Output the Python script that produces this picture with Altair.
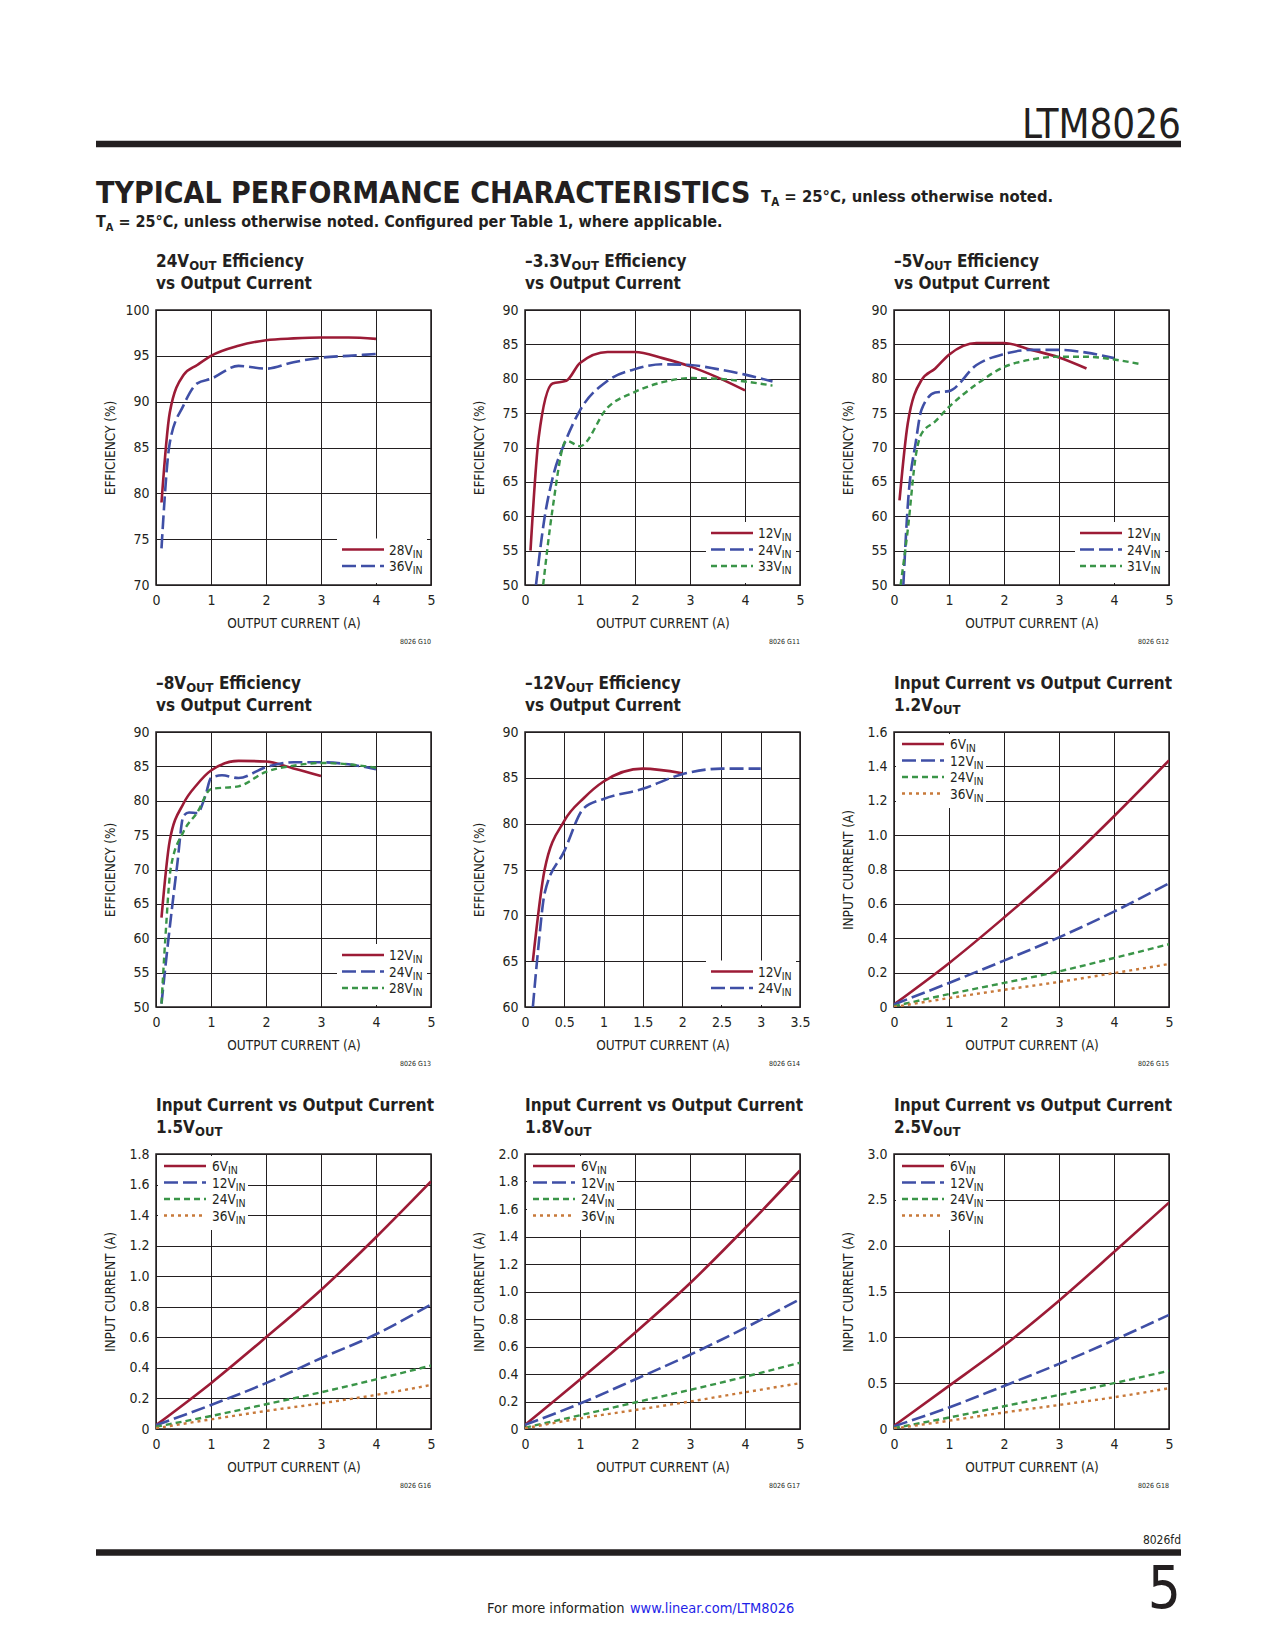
import altair as alt
import pandas as pd

# ---------------- data ----------------
P1_X = [0.1, 0.25, 0.5, 0.75, 1, 1.5, 2, 2.5, 3, 3.5, 4]
P1_28V = [79, 88.8, 92.9, 94.0, 95.0, 96.1, 96.7, 96.9, 97.0, 97.0, 96.85]
P1_36V = [74, 85.5, 89.6, 92.0, 92.5, 93.9, 93.6, 94.3, 94.8, 95.0, 95.2]

P2_12V_X = [0.1, 0.25, 0.5, 0.75, 1, 1.5, 2, 2.5, 3, 3.5, 4]
P2_12V = [55, 71.5, 79.3, 79.7, 82.3, 83.9, 83.9, 83.0, 81.8, 80.2, 78.3]
P2_24V_X = [0.2, 0.35, 0.5, 0.75, 1, 1.5, 2, 2.5, 3, 3.5, 4, 4.5]
P2_24V = [50, 59.5, 65.5, 71.2, 75.4, 79.7, 81.4, 82.1, 82.0, 81.4, 80.6, 79.6]
P2_33V_X = [0.33, 0.5, 0.75, 1, 1.5, 2, 2.5, 3, 3.5, 4, 4.5]
P2_33V = [50, 61, 71, 70.2, 75.8, 78.1, 79.5, 80.1, 80.0, 79.6, 79.0]

P3_12V_X = [0.1, 0.25, 0.5, 0.75, 1, 1.5, 2, 2.5, 3, 3.5]
P3_12V = [62.3, 73.5, 79.8, 81.5, 83.5, 85.2, 85.2, 84.2, 83.1, 81.5]
P3_24V_X = [0.17, 0.25, 0.4, 0.5, 0.75, 1, 1.5, 2, 2.5, 3, 3.5, 4]
P3_24V = [50, 61.5, 71, 75.5, 78, 78.2, 82, 83.6, 84.2, 84.2, 83.8, 83.0]
P3_31V_X = [0.12, 0.25, 0.4, 0.5, 0.75, 1, 1.5, 2, 2.5, 3, 3.5, 4, 4.5]
P3_31V = [50, 58, 69, 72, 73.8, 75.9, 79.2, 81.7, 82.8, 83.2, 83.2, 82.8, 82.1]

P4_12V_X = [0.1, 0.25, 0.5, 0.75, 1, 1.5, 2, 2.5, 3]
P4_12V = [63, 74.2, 79.6, 82.4, 84.4, 85.8, 85.7, 84.7, 83.6]
P4_24V_X = [0.1, 0.2, 0.38, 0.5, 0.6, 0.75, 0.9, 1, 1.2, 1.5, 2, 2.5, 3, 3.5, 4]
P4_24V = [50.5, 58, 70.3, 77.8, 78.3, 78.2, 80.8, 83.3, 83.7, 83.3, 84.9, 85.6, 85.6, 85.3, 84.6]
P4_28V_X = [0.1, 0.17, 0.27, 0.5, 0.75, 1, 1.5, 2, 2.5, 3, 3.5, 4]
P4_28V = [50.5, 60, 70.3, 75.5, 78.3, 81.7, 82.1, 84.2, 85.1, 85.5, 85.3, 84.8]

P5_12V_X = [0.1, 0.25, 0.5, 0.75, 1, 1.5, 2]
P5_12V = [65, 75, 80.3, 82.8, 84.6, 86.0, 85.5]
P5_24V_X = [0.1, 0.17, 0.25, 0.5, 0.75, 1, 1.5, 2, 2.5, 3]
P5_24V = [60, 66.5, 72.4, 77, 81.7, 82.7, 83.8, 85.4, 86, 86]

IC_X = [0, 1, 2, 3, 4, 5]
P6_6V = [0.015, 0.255, 0.52, 0.80, 1.11, 1.435]
P6_12V = [0.015, 0.14, 0.27, 0.405, 0.555, 0.72]
P6_24V = [0.005, 0.075, 0.14, 0.207, 0.285, 0.365]
P6_36V = [0.0, 0.052, 0.10, 0.146, 0.197, 0.25]

P7_6V = [0.025, 0.30, 0.60, 0.91, 1.255, 1.62]
P7_12V = [0.025, 0.157, 0.30, 0.463, 0.62, 0.815]
P7_24V = [0.015, 0.085, 0.162, 0.24, 0.325, 0.415]
P7_36V = [0.005, 0.063, 0.118, 0.168, 0.223, 0.288]

P8_6V = [0.03, 0.36, 0.70, 1.06, 1.46, 1.88]
P8_12V = [0.03, 0.185, 0.36, 0.54, 0.735, 0.945]
P8_24V = [0.01, 0.10, 0.193, 0.284, 0.38, 0.482]
P8_36V = [0.005, 0.077, 0.138, 0.20, 0.267, 0.333]

P9_6V = [0.035, 0.47, 0.91, 1.40, 1.93, 2.47]
P9_12V = [0.03, 0.235, 0.47, 0.71, 0.97, 1.245]
P9_24V = [0.01, 0.125, 0.248, 0.372, 0.50, 0.635]
P9_36V = [0.005, 0.09, 0.18, 0.262, 0.346, 0.445]

# ---------------- styles ----------------
FONT = "DejaVu Sans Condensed, sans-serif"
INK = "#231F20"
RED = "#9C1B36"
BLUE = "#3F4FA6"
GREEN = "#3A9548"
ORANGE = "#C8793A"
STY = {
    "red": dict(color=RED, strokeWidth=2.6),
    "blue": dict(color=BLUE, strokeWidth=2.6, strokeDash=[14, 5]),
    "green": dict(color=GREEN, strokeWidth=2.4, strokeDash=[6, 4]),
    "orange": dict(color=ORANGE, strokeWidth=2.4, strokeDash=[3, 4]),
}

# DejaVu Sans advance widths (per 1000 em); condensed face is ~0.9 of these
REG = {' ': 318, '.': 318, ',': 318, '-': 361, '\u2013': 500, '(': 390, ')': 390, '%': 950,
       '\u00b0': 500, '=': 838, '/': 337, ':': 337}
for c in "0123456789":
    REG[c] = 636
for c, w in zip("ABCDEFGHIJKLMNOPQRSTUVWXYZ",
                [684, 686, 698, 770, 632, 575, 775, 752, 295, 295, 656, 557, 863, 748, 787, 603, 787, 695, 635, 611, 732, 684, 989, 685, 611, 685]):
    REG[c] = w
for c, w in zip("abcdefghijklmnopqrstuvwxyz",
                [613, 635, 550, 635, 615, 352, 635, 634, 278, 278, 579, 278, 974, 634, 612, 635, 635, 411, 521, 392, 634, 592, 818, 592, 592, 525]):
    REG[c] = w
BOLD = {' ': 348, '.': 380, ',': 380, '-': 415, '\u2013': 500, '(': 457, ')': 457, '%': 1002,
        '\u00b0': 500, '=': 838, '/': 365, ':': 400}
for c in "0123456789":
    BOLD[c] = 696
for c, w in zip("ABCDEFGHIJKLMNOPQRSTUVWXYZ",
                [774, 762, 734, 830, 683, 683, 821, 837, 372, 372, 775, 637, 995, 837, 850, 733, 850, 770, 720, 682, 812, 774, 1103, 771, 724, 725]):
    BOLD[c] = w
for c, w in zip("abcdefghijklmnopqrstuvwxyz",
                [675, 716, 593, 716, 678, 435, 716, 712, 343, 343, 665, 343, 1042, 712, 687, 716, 716, 493, 595, 478, 712, 652, 924, 645, 652, 582]):
    BOLD[c] = w


def tw(s, size, bold=False):
    t = BOLD if bold else REG
    return sum(t.get(c, 620) for c in s) / 1000.0 * size * 0.9


def one():
    return alt.Data(values=[{"k": 0}])


def text_mark(x, y, s, size, bold=False, color=INK, align="left"):
    return alt.Chart(one()).mark_text(
        text=s, font=FONT, fontSize=size, fontWeight="bold" if bold else "normal",
        color=color, align=align, baseline="alphabetic"
    ).encode(x=alt.value(x), y=alt.value(y))


def rich(x, y, parts, color=INK):
    """Lay out text runs one after another; leading spaces become an x advance
    (SVG would otherwise collapse them)."""
    out = []
    for s, size, bold, dy in parts:
        stripped = s.lstrip(" ")
        x += tw(s[: len(s) - len(stripped)], size, bold)
        out.append(text_mark(x, y + dy, stripped, size, bold, color))
        x += tw(stripped, size, bold)
    return out


def rect(x1, y1, x2, y2, color="white"):
    return alt.Chart(one()).mark_rect(color=color).encode(
        x=alt.value(x1), x2=alt.value(x2), y=alt.value(y1), y2=alt.value(y2))


def hrule(x1, x2, y, **kw):
    return alt.Chart(one()).mark_rule(**kw).encode(x=alt.value(x1), x2=alt.value(x2), y=alt.value(y))


W, H = 275, 275
LEG_MAIN, LEG_SUB = 13.5, 10.5


def legend_layers(entries, where):
    layers = []
    n = len(entries)
    if where == "br":
        sx1, sx2, tx = 186, 228, 233
        y0 = 256 - (n - 1) * 16.5
        layers.append(rect(181, y0 - 11, 271, H - 2))
    else:
        sx1, sx2, tx = 8, 50, 56
        y0 = 12
        layers.append(rect(2, 2, 92, 76))
    for i, (lab, st) in enumerate(entries):
        yy = y0 + i * 16.5
        layers.append(hrule(sx1, sx2, yy, **STY[st]))
        layers += rich(tx, yy + 5, [(lab + "V", LEG_MAIN, False, 0), ("IN", LEG_SUB, False, 3)])
    return layers


def panel(series, xdom, xvals, ydom, yvals, ytitle, title_lines, entries, where, code, ic=False, extra=None):
    xax = alt.Axis(values=xvals, title="OUTPUT CURRENT (A)", format="~g")
    yk = dict(values=yvals, title=ytitle)
    if ic:
        yk["labelExpr"] = "datum.value == 0 ? '0' : format(datum.value, '.1f')"
    X = alt.X("x:Q", scale=alt.Scale(domain=xdom, nice=False, zero=False), axis=xax)
    Y = alt.Y("y:Q", scale=alt.Scale(domain=ydom, nice=False, zero=False), axis=alt.Axis(**yk))
    layers = []
    for xs, ys, st in series:
        df = pd.DataFrame({"x": xs, "y": ys})
        layers.append(alt.Chart(df).mark_line(clip=True, interpolate="monotone", **STY[st]).encode(x=X, y=Y))
    layers += legend_layers(entries, where)
    layers += rich(0, -43, title_lines[0])
    layers += rich(0, -21, title_lines[1])
    layers.append(text_mark(W, H + 59, code, 7, align="right"))
    if extra:
        layers += extra
    return alt.layer(*layers).properties(width=W, height=H)


TS, TSUB = 17, 13


def eff_title(pre):
    return [[(pre, TS, True, 0), ("OUT", TSUB, True, 3), (" Efficiency", TS, True, 0)],
            [("vs Output Current", TS, True, 0)]]


def ic_title(v):
    return [[("Input Current vs Output Current", TS, True, 0)],
            [(v, TS, True, 0), ("OUT", TSUB, True, 3)]]


# ---------------- page furniture (relative to first plot's origin) ----------------
OX, OY = 155, 309


def P(x, y):
    return x - OX, y - OY


page = []
ax, ay = P(8, 8)
page.append(rect(ax, ay, ax + 2, ay + 2))
x, y = P(1180, 137)
page.append(text_mark(x, y, "LTM8026", 40, align="right"))
x1, y = P(95, 143)
x2, _ = P(1180, 143)
page.append(hrule(x1, x2, y, color=INK, strokeWidth=6.5))
x, y = P(95, 202)
page.append(text_mark(x, y, "TYPICAL PERFORMANCE CHARACTERISTICS", 30, bold=True))
x, y = P(760, 201)
page += rich(x, y, [("T", 16.5, True, 0), ("A", 11.5, True, 3.5), (" = 25\u00b0C, unless otherwise noted.", 16.5, True, 0)])
x, y = P(95, 226)
page += rich(x, y, [("T", 16, True, 0), ("A", 11, True, 3.5),
                    (" = 25\u00b0C, unless otherwise noted. Configured per Table 1, where applicable.", 16, True, 0)])
x, y = P(1180, 1543)
page.append(text_mark(x, y, "8026fd", 12, align="right"))
x1, y = P(95, 1551.5)
page.append(hrule(x1, x2, y, color=INK, strokeWidth=6.5))
x, y = P(1180, 1607)
page.append(text_mark(x, y, "5", 58, align="right"))
x, y = P(486, 1612)
page += rich(x, y, [("For more information", 14.5, False, 0)])
page += rich(x + tw("For more information", 14.5), y, [(" www.linear.com/LTM8026", 14.5, False, 0)], color="#1F1FE8")

EFF = "EFFICIENCY (%)"
ICT = "INPUT CURRENT (A)"
X5 = [0, 1, 2, 3, 4, 5]

p1 = panel([(P1_X, P1_28V, "red"), (P1_X, P1_36V, "blue")], [0, 5], X5, [70, 100],
           [70, 75, 80, 85, 90, 95, 100], EFF, eff_title("24V"),
           [("28", "red"), ("36", "blue")], "br", "8026 G10", extra=page)
p2 = panel([(P2_12V_X, P2_12V, "red"), (P2_24V_X, P2_24V, "blue"), (P2_33V_X, P2_33V, "green")],
           [0, 5], X5, [50, 90], list(range(50, 91, 5)), EFF, eff_title("\u20133.3V"),
           [("12", "red"), ("24", "blue"), ("33", "green")], "br", "8026 G11")
p3 = panel([(P3_12V_X, P3_12V, "red"), (P3_24V_X, P3_24V, "blue"), (P3_31V_X, P3_31V, "green")],
           [0, 5], X5, [50, 90], list(range(50, 91, 5)), EFF, eff_title("\u20135V"),
           [("12", "red"), ("24", "blue"), ("31", "green")], "br", "8026 G12")
p4 = panel([(P4_12V_X, P4_12V, "red"), (P4_24V_X, P4_24V, "blue"), (P4_28V_X, P4_28V, "green")],
           [0, 5], X5, [50, 90], list(range(50, 91, 5)), EFF, eff_title("\u20138V"),
           [("12", "red"), ("24", "blue"), ("28", "green")], "br", "8026 G13")
p5 = panel([(P5_12V_X, P5_12V, "red"), (P5_24V_X, P5_24V, "blue")],
           [0, 3.5], [0, 0.5, 1, 1.5, 2, 2.5, 3, 3.5], [60, 90], list(range(60, 91, 5)), EFF,
           eff_title("\u201312V"), [("12", "red"), ("24", "blue")], "br", "8026 G14")

IC_ENTRIES = [("6", "red"), ("12", "blue"), ("24", "green"), ("36", "orange")]


def icp(a, b, c, d, ymax, step, v, code):
    n = int(round(ymax / step))
    vals = [round(i * step, 2) for i in range(n + 1)]
    return panel([(IC_X, a, "red"), (IC_X, b, "blue"), (IC_X, c, "green"), (IC_X, d, "orange")],
                 [0, 5], X5, [0, ymax], vals, ICT, ic_title(v), IC_ENTRIES, "tl", code, ic=True)


p6 = icp(P6_6V, P6_12V, P6_24V, P6_36V, 1.6, 0.2, "1.2V", "8026 G15")
p7 = icp(P7_6V, P7_12V, P7_24V, P7_36V, 1.8, 0.2, "1.5V", "8026 G16")
p8 = icp(P8_6V, P8_12V, P8_24V, P8_36V, 2.0, 0.2, "1.8V", "8026 G17")
p9 = icp(P9_6V, P9_12V, P9_24V, P9_36V, 3.0, 0.5, "2.5V", "8026 G18")

chart = alt.concat(p1, p2, p3, p4, p5, p6, p7, p8, p9, columns=3,
                   spacing={"row": 147, "column": 94}, bounds="flush").properties(
    padding=0, background="white"
).configure_view(stroke=INK, strokeWidth=1.5).configure_axis(
    domain=False, ticks=False, tickSize=0, grid=True, gridColor=INK, gridWidth=1, gridOpacity=1,
    labelFont=FONT, labelFontSize=14, labelColor=INK, labelFlush=False, labelOverlap=False,
    labelBound=False, titleFont=FONT, titleFontSize=13.5, titleFontWeight="normal", titleColor=INK
).configure_axisX(labelPadding=8, titleY=42, titleBaseline="alphabetic").configure_axisY(
    labelPadding=7, titleX=-46, titleBaseline="middle")

chart.save("out.html", embed_options={"renderer": "svg", "actions": False})
